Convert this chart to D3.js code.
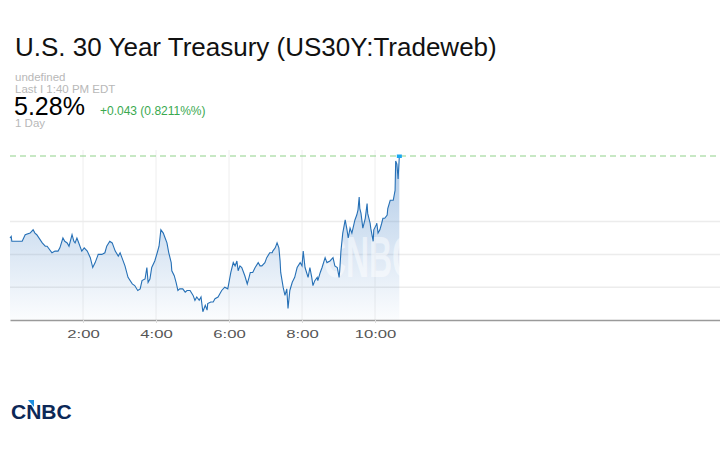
<!DOCTYPE html>
<html>
<head>
<meta charset="utf-8">
<script src="https://cdn.jsdelivr.net/npm/d3@7"></script>
<style>
  body { margin: 0; background: #fff; }
  svg text { font-family: "Liberation Sans", Arial, Helvetica, sans-serif; }
</style>
</head>
<body>
<div id="chart"></div>
<script>
var times = [
  "00:00","00:02","00:03","00:20","00:25","00:33","00:38","00:41","00:44","00:53",
  "00:58","01:01","01:09","01:14","01:19","01:22","01:27","01:30","01:34","01:37",
  "01:42","01:45","01:47","01:50","01:52","01:58","02:02","02:07","02:12","02:16",
  "02:20","02:25","02:31","02:36","02:39","02:44","02:48","02:53","02:58","03:01",
  "03:04","03:09","03:14","03:21","03:25","03:30","03:34","03:37","03:42","03:45",
  "03:47","03:50","03:53","03:58","04:02","04:05","04:08","04:12","04:15","04:18",
  "04:21","04:25","04:26","04:30","04:33","04:36","04:39","04:44","04:48","04:51",
  "04:56","05:01","05:04","05:07","05:11","05:14","05:17","05:21","05:24","05:25",
  "05:30","05:34","05:37","05:42","05:45","05:48","05:53","05:58","06:03","06:07",
  "06:10","06:13","06:15","06:18","06:21","06:26","06:30","06:33","06:35","06:39",
  "06:43","06:48","06:51","06:54","06:59","07:02","07:07","07:11","07:12","07:16",
  "07:19","07:22","07:24","07:25","07:29","07:32","07:35","07:37","07:40","07:44",
  "07:48","07:52","07:57","08:00","08:02","08:05","08:10","08:13","08:16","08:18",
  "08:21","08:25","08:26","08:30","08:33","08:38","08:41","08:46","08:51","08:54",
  "08:58","09:01","09:02","09:04","09:07","09:11","09:14","09:16","09:19","09:22",
  "09:27","09:30","09:32","09:34","09:35","09:37","09:40","09:44","09:47","09:48",
  "09:52","09:53","09:57","09:58","10:02","10:03","10:05","10:08","10:11","10:13",
  "10:16","10:20","10:21","10:25","10:30","10:33","10:34","10:36","10:38","10:40"
];

var yields = [
  5.230,5.231,5.228,5.228,5.232,5.233,5.235,5.233,5.232,5.227,
  5.225,5.225,5.221,5.222,5.222,5.224,5.230,5.228,5.227,5.225,
  5.232,5.228,5.227,5.230,5.228,5.222,5.224,5.222,5.218,5.212,
  5.215,5.220,5.220,5.221,5.225,5.228,5.227,5.222,5.219,5.221,
  5.218,5.213,5.206,5.202,5.201,5.198,5.199,5.204,5.205,5.212,
  5.203,5.205,5.212,5.216,5.221,5.225,5.235,5.233,5.230,5.227,
  5.221,5.215,5.210,5.207,5.203,5.198,5.199,5.199,5.197,5.198,
  5.198,5.195,5.192,5.194,5.192,5.194,5.185,5.189,5.186,5.190,
  5.191,5.191,5.193,5.194,5.196,5.198,5.200,5.199,5.209,5.215,
  5.213,5.216,5.210,5.213,5.212,5.207,5.202,5.206,5.209,5.209,
  5.212,5.215,5.213,5.213,5.215,5.218,5.221,5.221,5.222,5.224,
  5.227,5.224,5.216,5.209,5.200,5.195,5.199,5.187,5.198,5.203,
  5.206,5.212,5.215,5.213,5.222,5.212,5.206,5.212,5.206,5.201,
  5.204,5.206,5.204,5.209,5.212,5.218,5.215,5.216,5.218,5.213,
  5.212,5.206,5.210,5.222,5.233,5.241,5.235,5.230,5.236,5.233,
  5.241,5.244,5.247,5.255,5.248,5.245,5.236,5.242,5.251,5.245,
  5.239,5.236,5.228,5.235,5.238,5.239,5.233,5.235,5.239,5.242,
  5.242,5.244,5.248,5.253,5.253,5.259,5.277,5.275,5.266,5.280
];

var xTicks = ["02:00", "04:00", "06:00", "08:00", "10:00"];
var gridValues = [5.20, 5.22, 5.24];

var title = "U.S. 30 Year Treasury (US30Y:Tradeweb)";
var lastLabel = "5.28%";
var changeLabel = "+0.043 (0.8211%%)";

(function() {

  var width = 720,
      height = 450,
      plotTop = 150,
      plotBottom = 320;

  var parse = d3.timeParse("%H:%M");

  var data = times.map(function(t, i) {
    return { t: parse(t), v: yields[i] };
  });

  var x = d3.scaleTime()
      .domain([parse("00:00"), parse("20:00")])
      .range([10, 740]);

  var y = d3.scaleLinear()
      .domain([5.18, 5.28])
      .range([plotBottom, 156]);

  var svg = d3.select("#chart").append("svg")
      .attr("width", width)
      .attr("height", height)
      .style("display", "block");

  // header
  svg.append("text")
      .attr("x", 15).attr("y", 56)
      .attr("font-size", 26)
      .attr("fill", "#111")
      .text(title);

  var gray = "#b8b8b8";
  svg.append("text").attr("x", 15).attr("y", 81)
      .attr("font-size", 11.5).attr("fill", gray).text("undefined");
  svg.append("text").attr("x", 15).attr("y", 92.5)
      .attr("font-size", 11.5).attr("fill", gray).text("Last I 1:40 PM EDT");
  svg.append("text").attr("x", 14).attr("y", 115)
      .attr("font-size", 25).attr("fill", "#000").text(lastLabel);
  svg.append("text").attr("x", 100).attr("y", 114.5)
      .attr("font-size", 12).attr("fill", "#3aa94f").text(changeLabel);
  svg.append("text").attr("x", 15).attr("y", 127)
      .attr("font-size", 11.5).attr("fill", gray).text("1 Day");

  // gradient for the area
  var grad = svg.append("defs").append("linearGradient")
      .attr("id", "fade")
      .attr("gradientUnits", "userSpaceOnUse")
      .attr("x1", 0).attr("x2", 0)
      .attr("y1", y(5.28)).attr("y2", plotBottom);
  grad.append("stop").attr("offset", 0)
      .attr("stop-color", "#4a86c8").attr("stop-opacity", 0.45);
  grad.append("stop").attr("offset", 1)
      .attr("stop-color", "#4a86c8").attr("stop-opacity", 0.02);

  // grid
  svg.append("g")
    .selectAll("line")
    .data(xTicks)
    .join("line")
      .attr("x1", function(d) { return x(parse(d)); })
      .attr("x2", function(d) { return x(parse(d)); })
      .attr("y1", plotTop)
      .attr("y2", plotBottom)
      .attr("stroke", "#eeeeee")
      .attr("stroke-width", 1);

  svg.append("g")
    .selectAll("line")
    .data(gridValues)
    .join("line")
      .attr("x1", 10)
      .attr("x2", width)
      .attr("y1", function(d) { return y(d); })
      .attr("y2", function(d) { return y(d); })
      .attr("stroke", "#ececec")
      .attr("stroke-width", 1.5);

  // area
  var area = d3.area()
      .x(function(d) { return x(d.t); })
      .y0(plotBottom)
      .y1(function(d) { return y(d.v); });

  svg.append("path")
      .datum(data)
      .attr("d", area)
      .attr("fill", "url(#fade)");

  // watermark
  svg.append("text")
      .attr("transform", "translate(369,277) scale(0.55,1)")
      .attr("text-anchor", "middle")
      .attr("font-size", 58)
      .attr("font-weight", "bold")
      .attr("fill", "#fff")
      .attr("fill-opacity", 0.5)
      .text("CNBC");

  // last value dashed line
  var last = data[data.length - 1];
  svg.append("line")
      .attr("x1", 10)
      .attr("x2", width)
      .attr("y1", y(last.v))
      .attr("y2", y(last.v))
      .attr("stroke", "#8fd18a")
      .attr("stroke-width", 1.2)
      .attr("stroke-dasharray", "6,4");

  var line = d3.line()
      .x(function(d) { return x(d.t); })
      .y(function(d) { return y(d.v); });

  svg.append("path")
      .datum(data)
      .attr("d", line)
      .attr("fill", "none")
      .attr("stroke", "#2670b6")
      .attr("stroke-width", 1.1);

  svg.append("rect")
      .attr("x", x(last.t) - 2.5)
      .attr("y", y(last.v) - 1.5)
      .attr("width", 5)
      .attr("height", 3.5)
      .attr("fill", "#1aa8f0");

  // x axis
  var axis = svg.append("g")
      .attr("transform", "translate(0," + plotBottom + ")")
      .call(d3.axisBottom(x)
        .tickValues(xTicks.map(parse))
        .tickFormat(d3.timeFormat("%-H:%M"))
        .tickSize(3)
        .tickSizeOuter(0));

  axis.select(".domain")
      .attr("stroke", "#9a9a9a")
      .attr("stroke-width", 1.5);
  axis.selectAll(".tick line").attr("stroke", "#dddddd");
  axis.selectAll(".tick text")
      .attr("y", 10)
      .attr("font-family", null)
      .attr("font-size", 11.5)
      .attr("fill", "#555")
      .each(function() {
        var w = this.getComputedTextLength();
        d3.select(this)
            .attr("textLength", w * 1.45)
            .attr("lengthAdjust", "spacingAndGlyphs");
      });

  // logo
  var logo = svg.append("g");
  logo.append("text")
      .attr("x", 11).attr("y", 419)
      .attr("font-size", 21)
      .attr("font-weight", "bold")
      .attr("fill", "#0c2857")
      .text("CNBC");
  logo.append("polygon")
      .attr("points", "28,400 34,400 34,407")
      .attr("fill", "#1d8fe0");

})();
</script>
</body>
</html>
